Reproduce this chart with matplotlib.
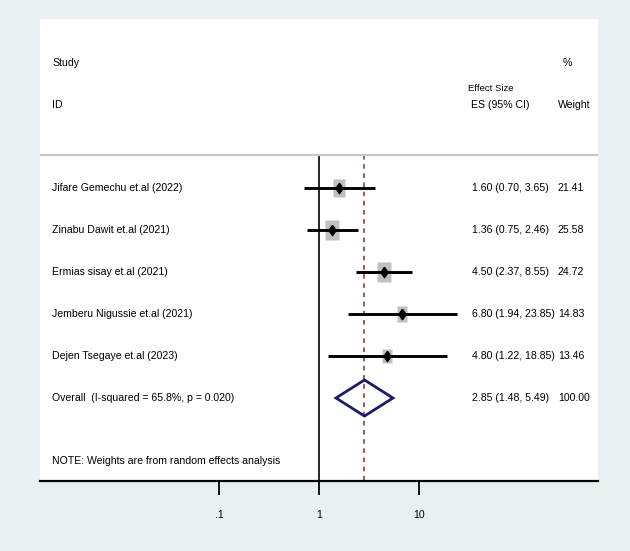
import matplotlib
matplotlib.use("Agg")
import matplotlib.pyplot as plt
import numpy as np

plt.rcParams["font.family"] = "Liberation Sans"
fs = 7.6

studies = ["Jifare Gemechu et.al (2022)", "Zinabu Dawit et.al (2021)",
           "Ermias sisay et.al (2021)", "Jemberu Nigussie et.al (2021)",
           "Dejen Tsegaye et.al (2023)"]
es = [1.60, 1.36, 4.50, 6.80, 4.80]
lo = [0.70, 0.75, 2.37, 1.94, 1.22]
hi = [3.65, 2.46, 8.55, 23.85, 18.85]
weight = [21.41, 25.58, 24.72, 14.83, 13.46]

overall_label = "Overall  (I-squared = 65.8%, p = 0.020)"
overall_es, overall_lo, overall_hi = 2.85, 1.48, 5.49
overall_w = 100.00

xticks = [0.1, 1, 10]
xticklabels = [".1", "1", "10"]

W, H = 630, 551
fig = plt.figure(figsize=(W / 100, H / 100), dpi=100, facecolor="#e9f0f2")
x0, x1, ytop, ybot = 40, 598, 19, 481
ax = fig.add_axes([x0 / W, 1 - ybot / H, (x1 - x0) / W, (ybot - ytop) / H])
ax.set_facecolor("white")
ax.set_xscale("log")
ax.set_xlim(10 ** ((x0 - 319) / 100), 10 ** ((x1 - 319) / 100))
ax.set_ylim((ybot - 188) / 42, (ytop - 188) / 42)

for s in ["top", "left", "right"]:
    ax.spines[s].set_visible(False)
ax.spines["bottom"].set_linewidth(1.6)
ax.set_xticks(xticks)
ax.set_xticklabels(xticklabels, fontsize=fs)
ax.xaxis.set_minor_locator(matplotlib.ticker.NullLocator())
ax.tick_params(axis="x", direction="out", length=10, width=1.3, pad=11)
ax.set_yticks([])

def px(x):
    return (x - x0) / (x1 - x0)

tr = ax.get_yaxis_transform()
line_y = (155 - 188) / 42
ylow = ax.get_ylim()[0]

# header
ax.axhline(line_y, color="#c8c8c8", lw=1.6)
ax.text(px(52), -2.98, "Study", transform=tr, va="center", fontsize=fs)
ax.text(px(52), -1.98, "ID", transform=tr, va="center", fontsize=fs)
ax.text(px(468), -2.36, "Effect Size", transform=tr, va="center", fontsize=6.8)
ax.text(px(471), -1.98, "ES (95% CI)", transform=tr, va="center", fontsize=fs)
ax.text(px(563), -2.98, "%", transform=tr, va="center", fontsize=fs)
ax.text(px(558), -1.98, "Weight", transform=tr, va="center", fontsize=fs)

# reference lines
ax.plot([1, 1], [line_y, ylow], color="black", lw=1.2, zorder=1)
ax.plot([overall_es, overall_es], [line_y, ylow], color="#8b2a2a", lw=1.1,
        ls=(0, (3, 3)), zorder=1)

box = [(-0.7, -1), (0.7, -1), (0.7, 1), (-0.7, 1), (-0.7, -1)]
dia = [(0, 1), (0.7, 0), (0, -1), (-0.7, 0), (0, 1)]

for i, name in enumerate(studies):
    ax.plot(es[i], i, marker=box, ms=3.9 * np.sqrt(weight[i]) * 0.72,
            color="#c0c0c0", mec="none", zorder=2)
    ax.plot([lo[i], hi[i]], [i, i], color="black", lw=2.1, solid_capstyle="butt", zorder=3)
    ax.plot(es[i], i, marker=dia, ms=7.5, color="black", zorder=4)
    ax.text(px(52), i, name, transform=tr, va="center", fontsize=fs)
    ax.text(px(472), i, "%.2f (%.2f, %.2f)" % (es[i], lo[i], hi[i]),
            transform=tr, va="center", fontsize=fs)
    ax.text(px(558), i, "%.2f" % weight[i], transform=tr, va="center", fontsize=fs)

k = len(studies)
ax.fill([overall_lo, overall_es, overall_hi, overall_es, overall_lo],
        [k, k - 0.43, k, k + 0.43, k], facecolor="none", edgecolor="#1b1b6b",
        lw=2.0, zorder=3)
ax.text(px(52), k, overall_label, transform=tr, va="center", fontsize=fs)
ax.text(px(472), k, "%.2f (%.2f, %.2f)" % (overall_es, overall_lo, overall_hi),
        transform=tr, va="center", fontsize=fs)
ax.text(px(558), k, "%.2f" % overall_w, transform=tr, va="center", fontsize=fs)

ax.text(px(52), (461 - 188) / 42, "NOTE: Weights are from random effects analysis",
        transform=tr, va="center", fontsize=fs)

fig.savefig("out.png", dpi=100, facecolor=fig.get_facecolor())
